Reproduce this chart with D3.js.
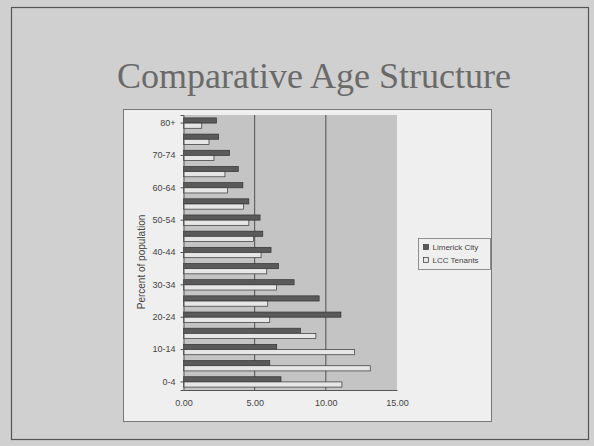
<!DOCTYPE html>
<html>
<head>
<meta charset="utf-8">
<script src="https://cdn.jsdelivr.net/npm/d3@7"></script>
<style>
  body { margin: 0; background: #d2d2d2; }
  svg { display: block; }
</style>
</head>
<body>
<svg id="chart" width="594" height="446"></svg>
<script>
// age groups, bottom to top
const ageGroups = ["0-4", "5-9", "10-14", "15-19", "20-24", "25-29", "30-34", "35-39",
  "40-44", "45-49", "50-54", "55-59", "60-64", "65-69", "70-74", "75-79", "80+"];
const limerickCity = [6.85, 6.06, 6.55, 8.22, 11.06, 9.53, 7.77, 6.67,
  6.15, 5.57, 5.38, 4.59, 4.17, 3.85, 3.24, 2.47, 2.31];
const lccTenants = [11.13, 13.12, 12.02, 9.30, 6.06, 5.92, 6.53, 5.85,
  5.45, 4.92, 4.59, 4.22, 3.10, 2.91, 2.14, 1.79, 1.28];
const xTicks = [0, 5, 10, 15];
const seriesNames = ["Limerick City", "LCC Tenants"];
const seriesFill = ["#5a5a5a", "#e6e6e6"];

const svg = d3.select("#chart");

// slide background and frame
svg.append("rect").attr("x", 0).attr("y", 0).attr("width", 594).attr("height", 446).attr("fill", "#d0d0d0");
svg.append("rect").attr("x", 11.5).attr("y", 7.5).attr("width", 577).attr("height", 432)
  .attr("fill", "none").attr("stroke", "#555").attr("stroke-width", 1.2);

svg.append("text")
  .attr("x", 314).attr("y", 88)
  .attr("text-anchor", "middle")
  .attr("font-family", "Liberation Serif, Times New Roman, serif")
  .attr("font-size", 36)
  .attr("fill", "#6a6a6a")
  .text("Comparative Age Structure");

// chart area
svg.append("rect").attr("x", 123.5).attr("y", 109.5).attr("width", 368).attr("height", 312)
  .attr("fill", "#efefef").attr("stroke", "#777").attr("stroke-width", 1);

const plot = { left: 183.5, top: 115, right: 397, bottom: 390 };

const x = d3.scaleLinear().domain([0, 15]).range([plot.left, plot.right]);
const y = d3.scaleBand().domain(ageGroups).range([plot.bottom, plot.top]).paddingInner(0.36).paddingOuter(0.18);
const ySub = d3.scaleBand().domain(seriesNames).range([0, y.bandwidth()]);

svg.append("rect")
  .attr("x", plot.left).attr("y", plot.top)
  .attr("width", plot.right - plot.left).attr("height", plot.bottom - plot.top)
  .attr("fill", "#c4c4c4");

// gridlines
svg.append("g").selectAll("line")
  .data(xTicks.slice(1, -1))
  .join("line")
  .attr("x1", d => x(d)).attr("x2", d => x(d))
  .attr("y1", plot.top).attr("y2", plot.bottom)
  .attr("stroke", "#333").attr("stroke-width", 0.8);

// bars
const groups = svg.append("g").selectAll("g")
  .data(ageGroups.map((a, i) => ({ age: a, vals: [limerickCity[i], lccTenants[i]] })))
  .join("g")
  .attr("transform", d => "translate(0," + y(d.age) + ")");

groups.selectAll("rect")
  .data(d => d.vals.map((v, j) => ({ name: seriesNames[j], value: v, j: j })))
  .join("rect")
  .attr("x", x(0))
  .attr("y", d => ySub(d.name))
  .attr("width", d => x(d.value) - x(0))
  .attr("height", ySub.bandwidth())
  .attr("fill", d => seriesFill[d.j])
  .attr("stroke", "#333")
  .attr("stroke-width", 0.7);

// x axis
const xAxis = svg.append("g")
  .attr("transform", "translate(0," + plot.bottom + ")")
  .call(d3.axisBottom(x).tickValues(xTicks).tickFormat(d3.format(".2f")).tickSize(0).tickPadding(10));
xAxis.select(".domain").attr("stroke", "#555");
xAxis.selectAll("text").attr("font-family", "Liberation Sans, Arial, sans-serif").attr("font-size", 9).attr("fill", "#444");

// y axis
const yAxis = svg.append("g")
  .attr("transform", "translate(" + plot.left + ",0)")
  .call(d3.axisLeft(y)
    .tickValues(ageGroups.filter((d, i) => i % 2 === 0))
    .tickSize(3).tickPadding(5));
yAxis.select(".domain").attr("stroke", "#555");
yAxis.selectAll("line").attr("stroke", "#555");
yAxis.selectAll("text").attr("font-family", "Liberation Sans, Arial, sans-serif").attr("font-size", 9).attr("fill", "#444");

svg.append("text")
  .attr("transform", "translate(145,262) rotate(-90)")
  .attr("text-anchor", "middle")
  .attr("font-family", "Liberation Sans, Arial, sans-serif")
  .attr("font-size", 10)
  .attr("fill", "#444")
  .text("Percent of population");

// legend
const legend = svg.append("g").attr("transform", "translate(418.5,238.5)");
legend.append("rect").attr("width", 72).attr("height", 31)
  .attr("fill", "#efefef").attr("stroke", "#777").attr("stroke-width", 0.8);
const li = legend.selectAll("g.item")
  .data(seriesNames)
  .join("g")
  .attr("class", "item")
  .attr("transform", (d, i) => "translate(5," + (6 + i * 13) + ")");
li.append("rect").attr("width", 5).attr("height", 5)
  .attr("fill", (d, i) => seriesFill[i]).attr("stroke", "#333").attr("stroke-width", 0.7);
li.append("text").attr("x", 9).attr("y", 5)
  .attr("font-family", "Liberation Sans, Arial, sans-serif")
  .attr("font-size", 8).attr("fill", "#444")
  .text(d => d);
</script>
</body>
</html>
